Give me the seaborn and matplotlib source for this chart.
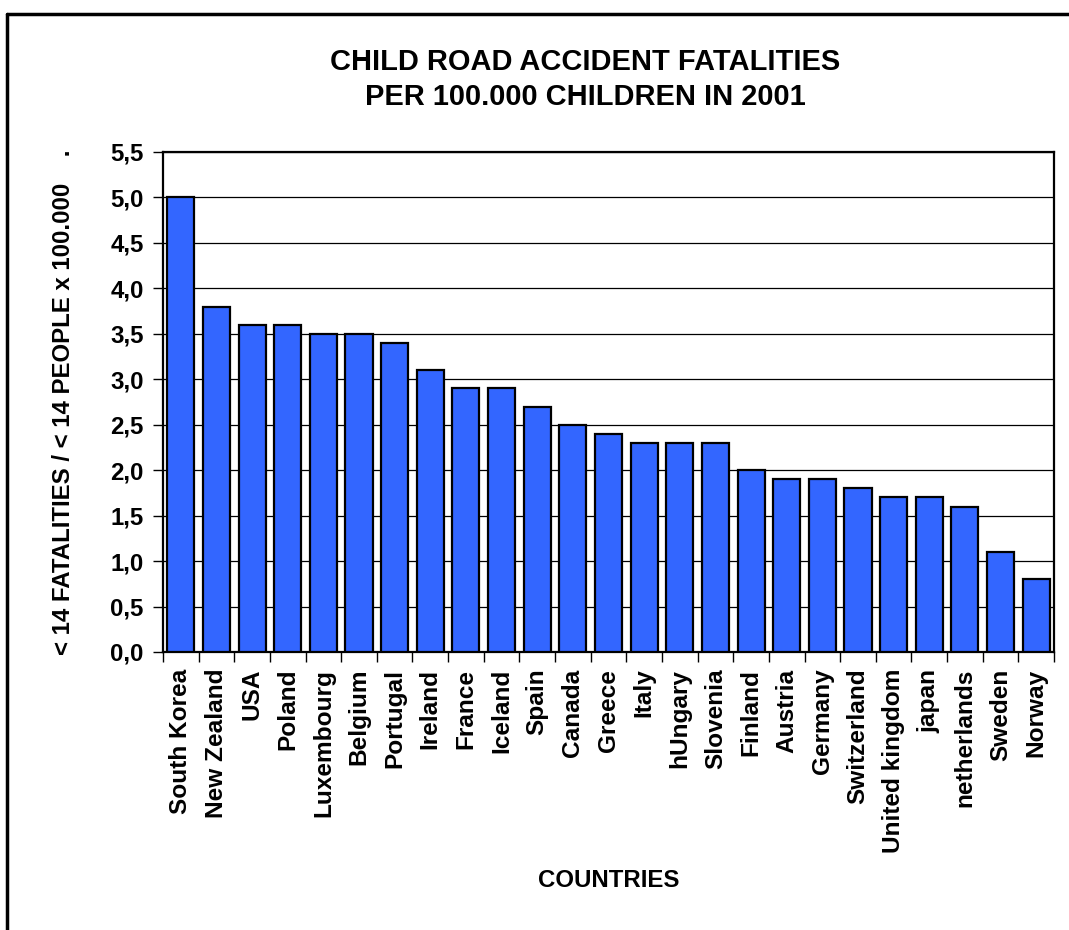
import matplotlib
matplotlib.use("Agg")
import matplotlib.pyplot as plt
import seaborn as sns
import pandas as pd
import numpy as np
from matplotlib.ticker import FuncFormatter, FixedLocator
from matplotlib.lines import Line2D

countries = ["South Korea", "New Zealand", "USA", "Poland", "Luxembourg", "Belgium",
             "Portugal", "Ireland", "France", "Iceland", "Spain", "Canada", "Greece",
             "Italy", "hUngary", "Slovenia", "Finland", "Austria", "Germany",
             "Switzerland", "United kingdom", "japan", "netherlands", "Sweden", "Norway"]
values = [5.0, 3.8, 3.6, 3.6, 3.5, 3.5, 3.4, 3.1, 2.9, 2.9, 2.7, 2.5, 2.4,
          2.3, 2.3, 2.3, 2.0, 1.9, 1.9, 1.8, 1.7, 1.7, 1.6, 1.1, 0.8]
yticks = [0.0, 0.5, 1.0, 1.5, 2.0, 2.5, 3.0, 3.5, 4.0, 4.5, 5.0, 5.5]
title_lines = ["CHILD ROAD ACCIDENT FATALITIES", "PER 100.000 CHILDREN IN 2001"]
ylabel = "< 14 FATALITIES / < 14 PEOPLE x 100.000    ."
xlabel = "COUNTRIES"

sns.set_style("white")
plt.rcParams['font.family'] = ['Liberation Sans', 'DejaVu Sans']
plt.rcParams['font.weight'] = 'bold'
for k in ['text.color', 'axes.labelcolor', 'xtick.color', 'ytick.color']:
    plt.rcParams[k] = 'black'

W, H = 1069, 930
fig = plt.figure(figsize=(W / 100, H / 100), dpi=100)
left, right, top, bottom = 163, 1054, 152, 652
ax = fig.add_axes([left / W, 1 - bottom / H, (right - left) / W, (bottom - top) / H])

df = pd.DataFrame({"country": countries, "value": values})
sns.barplot(data=df, x="country", y="value", color="#3366FF", saturation=1,
            edgecolor="black", linewidth=1.6, width=0.76, ax=ax, zorder=3)

ax.set_xlim(-0.5, len(countries) - 0.5)
ax.set_ylim(0, 5.5)
ax.set_yticks(yticks)
ax.yaxis.set_major_formatter(FuncFormatter(lambda v, p: f"{v:.1f}".replace(".", ",")))
ax.yaxis.grid(True, color="black", linewidth=0.9)
ax.set_axisbelow(True)

ax.xaxis.set_minor_locator(FixedLocator(np.arange(-0.5, len(countries), 1.0)))
ax.tick_params(axis="x", which="major", length=0, pad=12, labelsize=17.6, rotation=90)
ax.tick_params(axis="x", which="minor", length=7, width=1.0, color="black", bottom=True)
ax.tick_params(axis="y", which="major", length=7, width=1.0, color="black", left=True,
               pad=7, labelsize=17.3)
for lbl in ax.get_xticklabels() + ax.get_yticklabels():
    lbl.set_fontweight("bold")

for s in ax.spines.values():
    s.set_color("black")
    s.set_linewidth(1.6)
    s.set_visible(True)

ax.set_xlabel("")
ax.set_ylabel(ylabel, fontsize=17.3, fontweight="bold", labelpad=25)
fig.text(609 / W, 1 - 880 / H, xlabel, ha="center", va="center", fontsize=17.3, fontweight="bold")
fig.text(585 / W, 1 - 62 / H, title_lines[0], ha="center", va="center", fontsize=20.9, fontweight="bold")
fig.text(585 / W, 1 - 97 / H, title_lines[1], ha="center", va="center", fontsize=20.9, fontweight="bold")

# figure frame (left and top edges)
fig.add_artist(Line2D([7 / W, 7 / W], [0, 1 - 14 / H], transform=fig.transFigure, color="black", linewidth=2.5))
fig.add_artist(Line2D([7 / W, 1], [1 - 14 / H, 1 - 14 / H], transform=fig.transFigure, color="black", linewidth=2.5))

fig.savefig("out.png", dpi=100)
